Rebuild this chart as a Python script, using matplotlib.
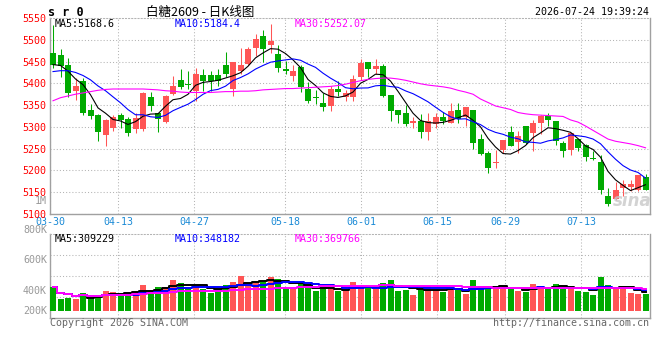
import numpy as np
import pandas as pd
import matplotlib
matplotlib.use("Agg")
import matplotlib.pyplot as plt

plt.rcParams['font.family'] = ['DejaVu Sans Mono', 'Noto Sans CJK SC']

# ---- data ----
title = "白糖2609 - 日K线图"
stamp = "2026-07-24 19:39:24"
date_labels = ['03-30', '04-13', '04-27', '05-18', '06-01', '06-15', '06-29', '07-13']
date_idx = [0, 9, 19, 31, 41, 51, 60, 70]

open_ = [5469, 5466, 5441, 5383, 5405, 5339, 5327, 5282, 5298, 5328,
         5318, 5296, 5296, 5369, 5331, 5312, 5375, 5408, 5399, 5383,
         5419, 5419, 5418, 5441, 5387, 5428, 5445, 5482, 5508, 5487,
         5468, 5432, 5416, 5437, 5388, 5369, 5355, 5347, 5388, 5369,
         5368, 5415, 5450, 5432, 5439, 5374, 5339, 5331, 5308, 5314,
         5288, 5306, 5323, 5310, 5339, 5322, 5339, 5273, 5241, 5217,
         5247, 5288, 5265, 5301, 5285, 5310, 5325, 5314, 5264, 5246,
         5272, 5258, 5229, 5219, 5142, 5135, 5160, 5162, 5156, 5185]
high = [5533, 5479, 5458, 5412, 5412, 5352, 5330, 5318, 5328, 5333,
        5322, 5333, 5381, 5381, 5333, 5374, 5417, 5433, 5429, 5435,
        5433, 5429, 5432, 5472, 5448, 5481, 5483, 5514, 5522, 5537,
        5488, 5452, 5441, 5441, 5404, 5385, 5378, 5393, 5406, 5385,
        5419, 5456, 5450, 5456, 5445, 5374, 5339, 5350, 5323, 5329,
        5331, 5333, 5335, 5354, 5354, 5345, 5339, 5283, 5245, 5248,
        5270, 5302, 5291, 5302, 5316, 5328, 5333, 5314, 5268, 5285,
        5272, 5260, 5245, 5235, 5160, 5173, 5179, 5179, 5189, 5191]
low = [5435, 5414, 5369, 5362, 5328, 5318, 5268, 5256, 5291, 5298,
       5279, 5287, 5291, 5337, 5289, 5310, 5374, 5387, 5387, 5360,
       5382, 5382, 5395, 5414, 5370, 5422, 5441, 5462, 5448, 5470,
       5425, 5422, 5405, 5379, 5355, 5352, 5337, 5337, 5372, 5360,
       5360, 5408, 5414, 5422, 5368, 5314, 5310, 5302, 5298, 5275,
       5270, 5298, 5306, 5308, 5308, 5301, 5250, 5235, 5195, 5206,
       5239, 5256, 5239, 5260, 5245, 5283, 5302, 5258, 5232, 5235,
       5245, 5222, 5224, 5147, 5118, 5132, 5141, 5152, 5152, 5155]
close = [5441, 5439, 5377, 5395, 5333, 5325, 5288, 5316, 5323, 5316,
         5285, 5320, 5378, 5348, 5319, 5372, 5395, 5392, 5396, 5422,
         5406, 5405, 5406, 5422, 5448, 5441, 5479, 5502, 5479, 5497,
         5435, 5429, 5429, 5391, 5360, 5366, 5345, 5388, 5379, 5378,
         5410, 5446, 5432, 5439, 5372, 5337, 5328, 5306, 5314, 5288,
         5314, 5322, 5314, 5337, 5318, 5345, 5262, 5238, 5206, 5218,
         5270, 5256, 5278, 5264, 5308, 5325, 5315, 5268, 5245, 5285,
         5252, 5232, 5227, 5156, 5122, 5155, 5168, 5168, 5189, 5156]
volume = [398, 197, 218, 197, 290, 192, 262, 333, 311, 290,
          274, 311, 431, 328, 398, 398, 508, 464, 356, 405,
          361, 300, 356, 431, 480, 579, 454, 454, 497, 562,
          530, 377, 356, 454, 398, 328, 356, 361, 333, 333,
          480, 431, 382, 361, 459, 508, 333, 344, 262, 356,
          410, 344, 316, 356, 372, 279, 508, 410, 410, 356,
          389, 356, 333, 316, 443, 398, 356, 443, 389, 398,
          333, 311, 267, 562, 426, 356, 356, 300, 279, 279]  # thousand lots

# moving averages before the visible window
ma5_head = [5443, 5441, 5428, 5410]
ma10_head = [5427, 5429, 5429, 5425, 5418, 5408, 5394, 5383, 5369]
ma30 = [5360, 5367, 5371, 5375, 5378, 5381, 5384, 5386, 5387, 5387,
        5387, 5387, 5387, 5386, 5385, 5383, 5382, 5380, 5379, 5379,
        5379, 5379, 5380, 5381, 5381, 5382, 5382, 5383, 5385, 5386,
        5387, 5388, 5388, 5389, 5390, 5391, 5392, 5393, 5395, 5398,
        5402, 5406, 5409, 5411, 5412, 5412, 5410, 5407, 5403, 5399,
        5396, 5394, 5392, 5389, 5384, 5380, 5375, 5364, 5356, 5348,
        5344, 5340, 5333, 5330, 5328, 5327, 5326, 5325, 5324, 5316,
        5311, 5302, 5292, 5282, 5272, 5267, 5264, 5261, 5257, 5252]

price_ticks = [5100, 5150, 5200, 5250, 5300, 5350, 5400, 5450, 5500, 5550]
ma_text = ['MA5:5168.6', 'MA10:5184.4', 'MA30:5252.07']
vma_text = ['MA5:309229', 'MA10:348182', 'MA30:369766']
vol_labels = ['800K', '600K', '400K', '200K']

# ---- derived ----
o = np.array(open_, float)
c = np.array(close, float)
h = np.array(high, float)
l = np.array(low, float)
v = np.array(volume, float) * 1000
n = len(c)
x = np.arange(n)

ma5 = pd.Series(c).rolling(5).mean().values
ma5[:4] = ma5_head
ma10 = pd.Series(c).rolling(10).mean().values
ma10[:9] = ma10_head
vma5 = pd.Series(v).rolling(5, min_periods=1).mean().values
vma10 = pd.Series(v).rolling(10, min_periods=1).mean().values
vma30 = pd.Series(v).rolling(30, min_periods=1).mean().values

RED = '#ff5555'
GREEN = '#00aa00'
GRID = '#b4b4b4'
FRAME = '#a0a0a0'
cols = np.where(c >= o, RED, GREEN)

W, H = 660, 360
fig = plt.figure(figsize=(6.6, 3.6), dpi=100)
fig.patch.set_facecolor('white')

def px_axes(left, top, right, bottom):
    return fig.add_axes([left / W, 1 - bottom / H, (right - left) / W, (bottom - top) / H])

def ftxt(xp, yp, s, **kw):
    kw.setdefault('va', 'center')
    kw.setdefault('fontsize', 7.2)
    fig.text(xp / W, 1 - yp / H, s, **kw)

ax = px_axes(50, 18, 649.5, 214)
axv = px_axes(50, 234.3, 649.5, 318)

xl = (-0.4, 79.53)
gx = xl[0] + np.array(date_idx) / (n - 1) * (xl[1] - xl[0])

# price panel
ax.vlines(x, l, h, colors=cols, lw=0.75, zorder=2)
body = np.maximum(np.abs(c - o), 2.3)
ax.bar(x, body, bottom=np.minimum(o, c), width=0.8, color=cols, lw=0, zorder=3)
ax.plot(x, ma5, color='black', lw=0.8, zorder=4)
ax.plot(x, ma10, color='#0000ff', lw=0.8, zorder=4)
ax.plot(x, ma30, color='#ff00ff', lw=0.8, zorder=4)
ax.set_xlim(*xl)
ax.set_ylim(price_ticks[0], price_ticks[-1])
ax.set_yticks(price_ticks)
ax.set_yticklabels([str(t) for t in price_ticks])
ax.set_xticks(gx)
ax.set_xticklabels(date_labels)
ax.tick_params(axis='y', length=0, pad=3, labelsize=7.2, labelcolor='#ff0000')
ax.tick_params(axis='x', length=0, pad=2.5, labelsize=7.2, labelcolor='#1a8ad6')
ax.grid(True, color=GRID, ls=(0, (1, 2)), lw=0.75, zorder=0)

# volume panel
axv.bar(x, v, width=0.8, color=cols, lw=0, zorder=3)
axv.plot(x, vma5, color='black', lw=1.4, drawstyle='steps-mid', zorder=4)
axv.plot(x, vma10, color='#0000ff', lw=1.4, drawstyle='steps-mid', zorder=4)
axv.plot(x, vma30, color='#ff00ff', lw=1.4, drawstyle='steps-mid', zorder=4)
axv.set_xlim(*xl)
vlo, vhi = -114800, 1257000
axv.set_ylim(vlo, vhi)
axv.set_yticks([vlo + f * (vhi - vlo) for f in (0.25, 0.5, 0.75)])
axv.set_xticks(gx)
axv.tick_params(length=0, labelleft=False, labelbottom=False)
axv.grid(True, color=GRID, ls=(0, (1, 2)), lw=0.75, zorder=0)

for a in (ax, axv):
    for side in ('left', 'right', 'bottom'):
        a.spines[side].set_color(FRAME)
        a.spines[side].set_linewidth(1.0)
    a.spines['top'].set_color(GRID)
    a.spines['top'].set_linestyle((0, (1, 2)))
    a.spines['top'].set_linewidth(0.75)

# texts
ftxt(48, 12, "s r 0", ha='left', fontweight='bold', fontsize=8.5)
ftxt(200, 12, title, ha='center', fontsize=9, family=['Noto Sans CJK SC', 'DejaVu Sans'])
ftxt(649, 12, stamp, ha='right')
for xp, s, col in zip((55, 175, 295), ma_text, ('black', '#0000ff', '#ff00ff')):
    ftxt(xp, 24, s, ha='left', color=col)
for xp, s, col in zip((55, 175, 295), vma_text, ('black', '#0000ff', '#ff00ff')):
    ftxt(xp, 238.5, s, ha='left', color=col)
ftxt(47, 201, '1M', ha='right', color='#999999')
for yp, s in zip((230, 260, 291, 311), vol_labels):
    ftxt(47, yp, s, ha='right', color='#999999')
ftxt(50, 323.5, 'Copyright 2026 SINA.COM', ha='left', color='#666666')
ftxt(649, 323.5, 'http://finance.sina.com.cn', ha='right', color='#666666')
ftxt(632, 201, 'sina', ha='center', color='#c8c8c8', fontsize=12,
     fontweight='bold', style='italic', family='DejaVu Sans', alpha=0.8)

fig.savefig('out.png', dpi=100, facecolor='white')
